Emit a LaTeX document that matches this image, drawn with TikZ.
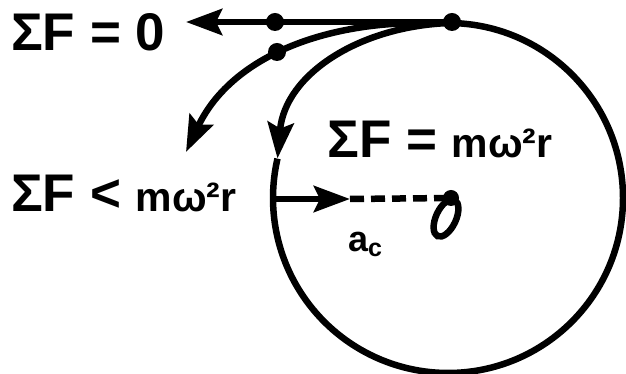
\documentclass[tikz,border=0pt]{standalone}
\usepackage{fontspec}
\setmainfont{Liberation Sans}
\usetikzlibrary{arrows.meta}
\newcommand{\smallpart}[1]{{\fontsize{41}{43}\selectfont #1}}
\begin{document}
\begin{tikzpicture}[x=1pt,y=1pt,
  ln/.style={line width=6.5pt},
  tipped/.style={-{Stealth[length=36pt,width=26pt,inset=6pt]}},
  dotnode/.style={circle,fill,inner sep=0pt,minimum size=18pt},
  big/.style={font=\bfseries\fontsize{53}{55}\selectfont, inner sep=0pt, anchor=base west},
  sublabel/.style={font=\bfseries\fontsize{36}{38}\selectfont, inner sep=0pt, anchor=base west}
]
\useasboundingbox (0,0) rectangle (626,374);
% circle (open at the upper-left, where the inner path joins it)
\coordinate (O) at (448,176);
\draw[ln] (448,351) arc[start angle=90,end angle=-193,radius=175];
% tangent line with dots
\node[dotnode] (p1) at (452,352) {};
\node[dotnode] (p0) at (275,352) {};
\coordinate (L) at (186,352);
\draw[ln,tipped] (p1.center) -- (L);
% inner path (follows the circle)
\coordinate (s1) at (450,351);
\coordinate (e1) at (277.5,215.5);
\draw[ln,tipped] (s1) .. controls (360,348) and (285,300) .. (e1);
% outer path
\coordinate (s2) at (425,351);
\coordinate (e2) at (186,222);
\draw[ln,tipped] (s2) .. controls (320,352) and (230,315) .. (e2);
\node[dotnode] (p2) at (277,322) {};
% centripetal acceleration
\coordinate (R) at (273,175);
\coordinate (A) at (350,175);
\node[dotnode,minimum size=16pt] (c) at (451,176) {};
\draw[ln,tipped] (R) -- (A);
\draw[ln,dash pattern=on 14pt off 7pt] (A) -- (c.center);
\draw[line width=6.5pt,rotate around={-25:(446,156)}] (446,156) ellipse [x radius=10pt, y radius=20pt];
% labels
\node[big] (t1) at (11,323) {ΣF = 0};
\node[big] (t2) at (327,216) {ΣF = \smallpart{mω²r}};
\node[big] (t3) at (11,162) {ΣF < \smallpart{mω²r}};
\node[sublabel] (t4) at (348,122) {a\raisebox{-5pt}{\fontsize{25}{27}\selectfont c}};
\end{tikzpicture}
\end{document}
